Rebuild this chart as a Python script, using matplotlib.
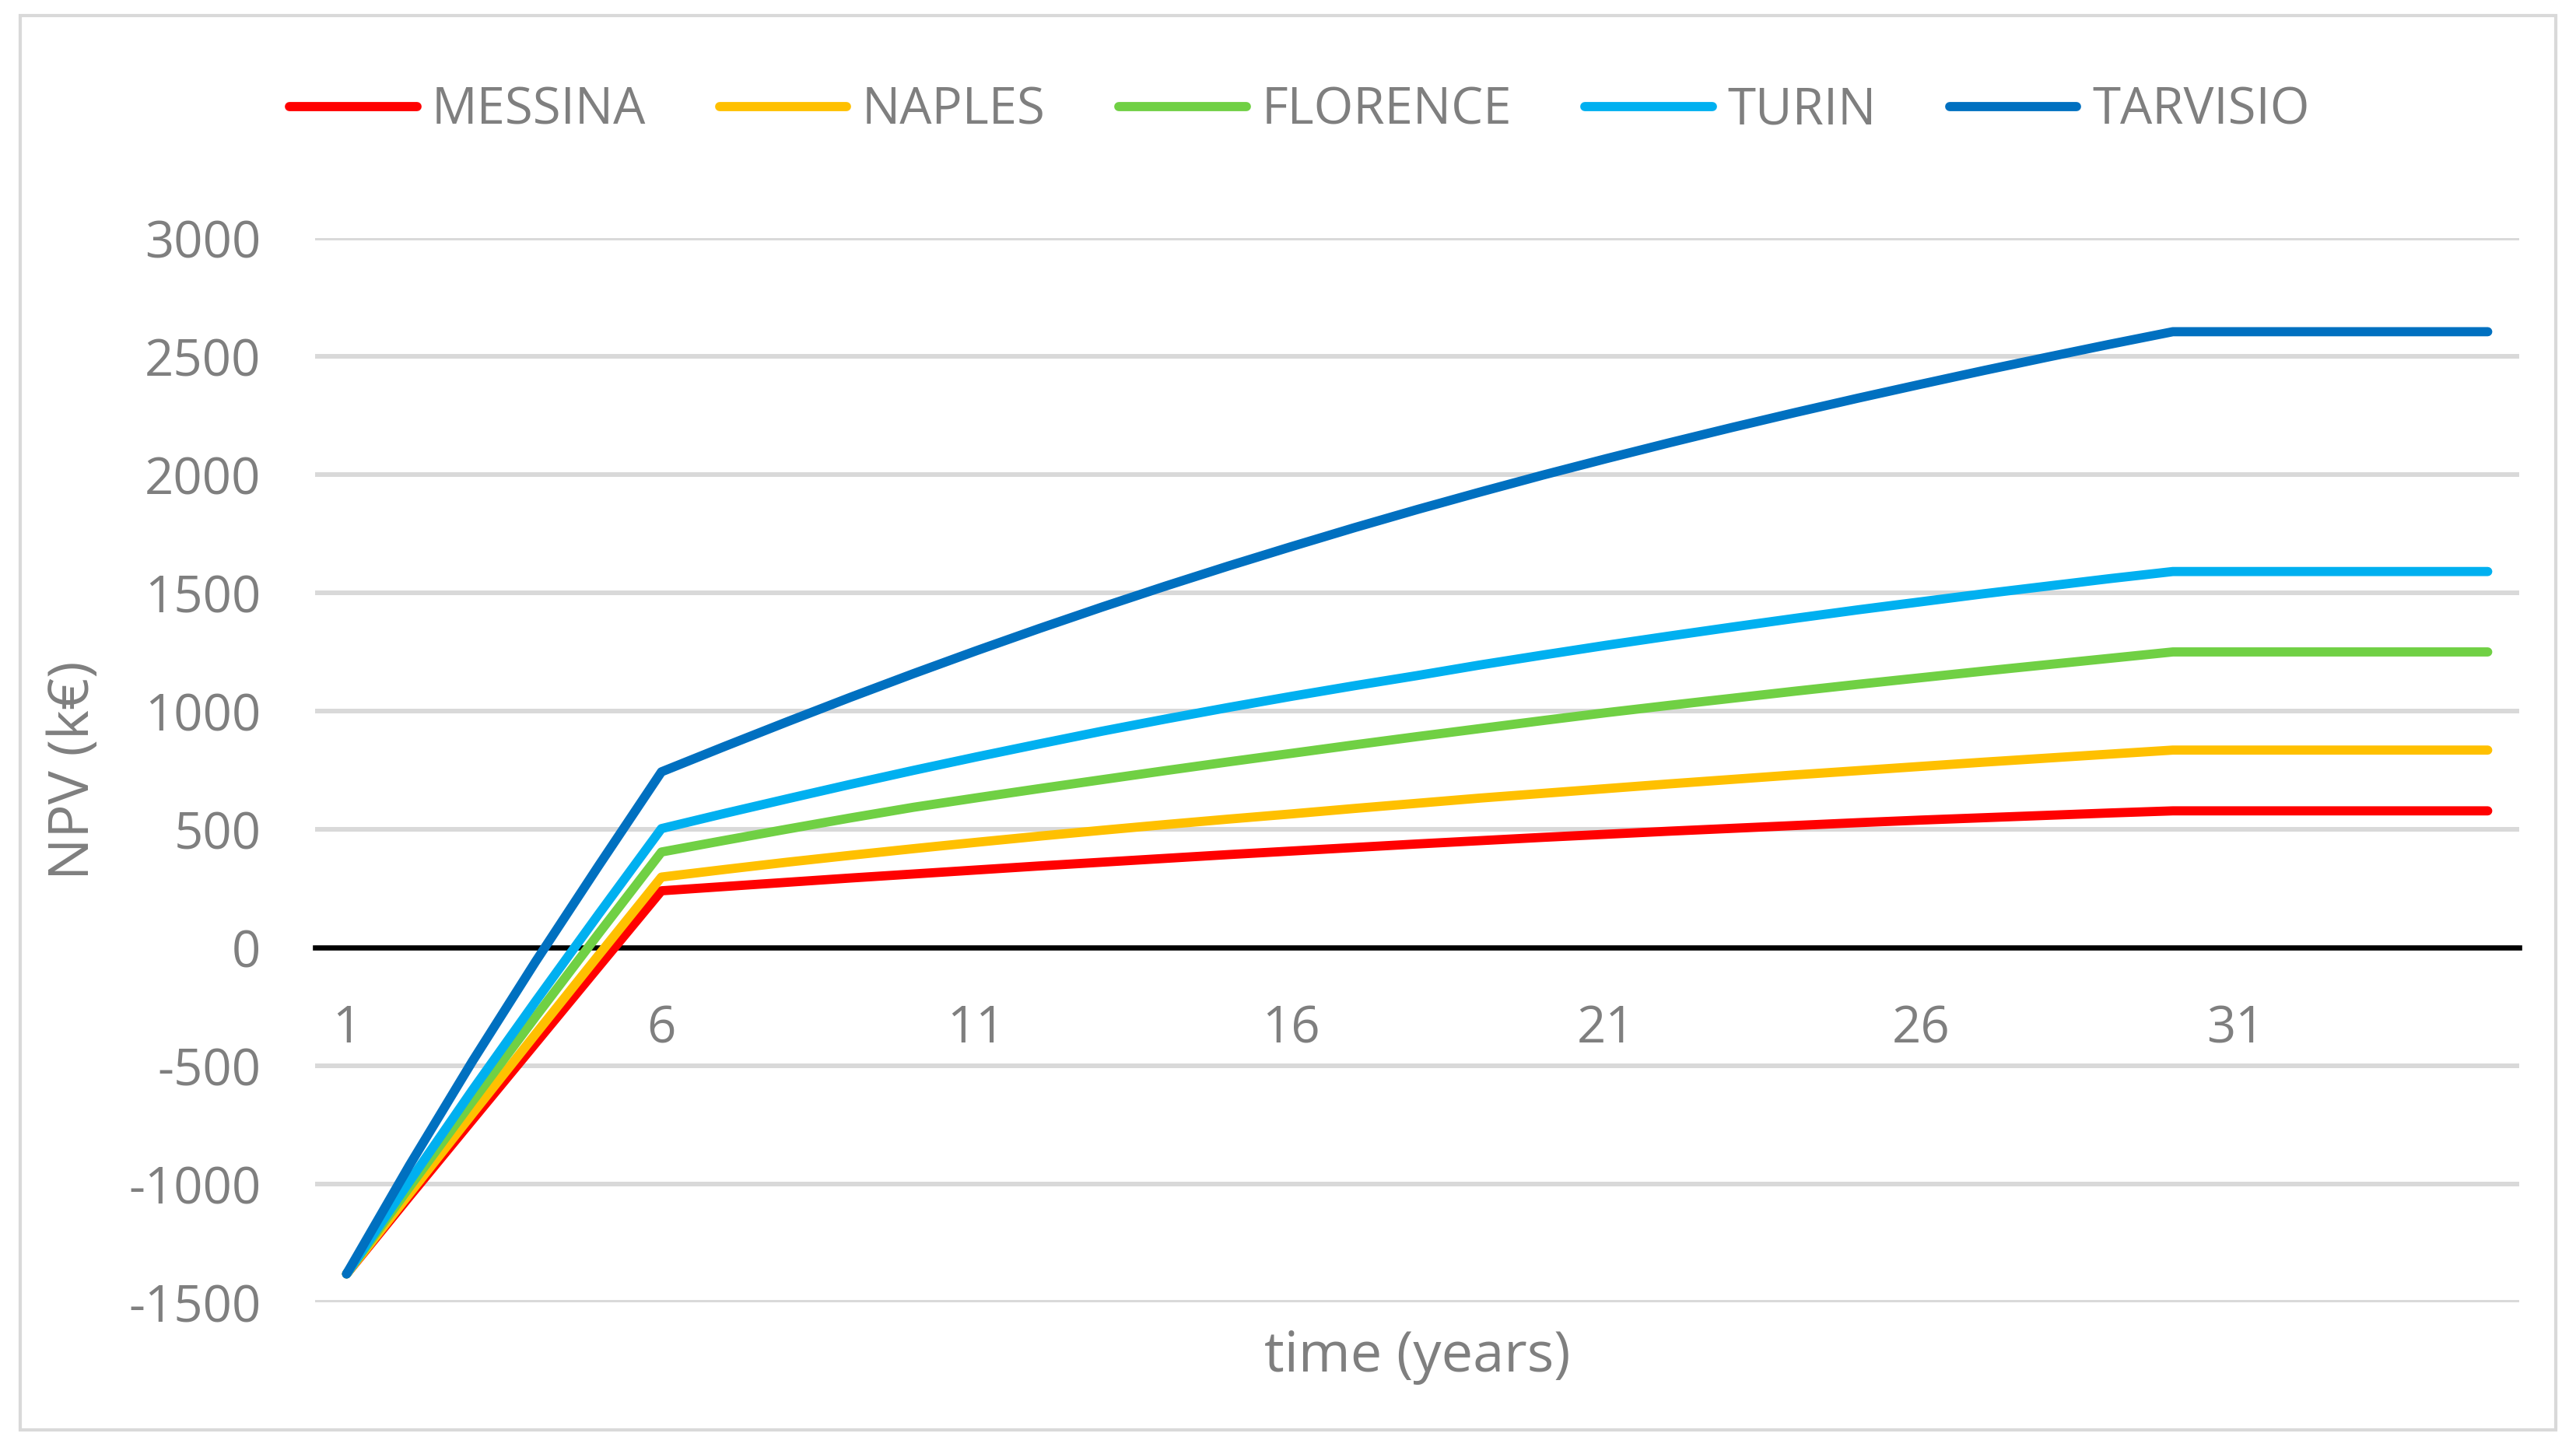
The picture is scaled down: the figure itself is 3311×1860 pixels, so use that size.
import matplotlib
matplotlib.use("Agg")
import matplotlib.pyplot as plt
from matplotlib.patches import Rectangle

plt.rcParams['font.family'] = ['Open Sans', 'DejaVu Sans']

years = list(range(1, 36))
messina = [-1380, -1052, -728, -405, -82, 240, 258, 276, 294, 311, 328, 345, 361, 377, 393,
           408, 423, 438, 452, 466, 479, 492, 504, 516, 528, 539, 549, 559, 569, 578,
           578, 578, 578, 578, 578]
naples = [-1380, -1040, -702, -366, -33, 298, 330, 361, 390, 418, 445, 471, 496, 520, 543,
          565, 588, 610, 632, 652, 672, 692, 711, 730, 748, 766, 784, 801, 818, 835,
          835, 835, 835, 835, 835]
florence = [-1380, -1012, -650, -293, 58, 404, 453, 501, 548, 593, 633, 672, 710, 748, 785,
            821, 857, 892, 926, 960, 993, 1024, 1054, 1084, 1113, 1141, 1169, 1196, 1223, 1250,
            1250, 1250, 1250, 1250, 1250]
turin = [-1380, -988, -602, -228, 140, 503, 567, 629, 690, 749, 806, 861, 915, 966, 1015,
         1062, 1107, 1150, 1195, 1237, 1278, 1317, 1355, 1392, 1428, 1462, 1496, 1528, 1560, 1590,
         1590, 1590, 1590, 1590, 1590]
tarvisio = [-1380, -920, -480, -60, 345, 743, 850, 955, 1058, 1158, 1255, 1349, 1440, 1528, 1613,
            1695, 1775, 1852, 1926, 1998, 2067, 2134, 2199, 2262, 2323, 2382, 2440, 2496, 2551, 2604,
            2604, 2604, 2604, 2604, 2604]

series_names = ["MESSINA", "NAPLES", "FLORENCE", "TURIN", "TARVISIO"]
series_values = [messina, naples, florence, turin, tarvisio]
series_colors = ["#FF0000", "#FFC000", "#70D044", "#00B0F0", "#0070C0"]

x_ticks = [1, 6, 11, 16, 21, 26, 31]
y_ticks = [-1500, -1000, -500, 0, 500, 1000, 1500, 2000, 2500, 3000]

GRAY = "#7F7F7F"
GRID = "#D9D9D9"

fig = plt.figure(figsize=(33.11, 18.60), dpi=100)
fig.patch.set_facecolor("white")
fig.patches.append(Rectangle((26 / 3311, 1 - 1838 / 1860), (3285 - 26) / 3311, (1838 - 20) / 1860,
                             transform=fig.transFigure, fill=False, edgecolor=GRID, linewidth=3))

ax = fig.add_axes([405 / 3311, 0.1, (3238 - 405) / 3311, (1674 - 306) / 1860])

for name, vals, col in zip(series_names, series_values, series_colors):
    ax.plot(years, vals, color=col, linewidth=8.5, label=name, zorder=3,
            solid_capstyle='round', solid_joinstyle='round')

ax.set_xlim(0.5, 35.5)
ax.set_ylim(-1500, 3000)
ax.set_yticks(y_ticks)
ax.set_yticklabels([str(v) for v in y_ticks])
ax.set_xticks(x_ticks)
ax.set_xticklabels([str(v) for v in x_ticks])

ax.set_axisbelow(True)
ax.yaxis.grid(True, color=GRID, linewidth=4.3)
ax.xaxis.grid(False)

for s in ["top", "right", "left"]:
    ax.spines[s].set_visible(False)
ax.spines["bottom"].set_position(("data", 0))
ax.spines["bottom"].set_color("black")
ax.spines["bottom"].set_linewidth(4.8)
ax.spines["bottom"].set_zorder(2.5)

ax.tick_params(axis="y", length=0, pad=50, labelsize=47, labelcolor=GRAY)
ax.tick_params(axis="x", length=0, pad=52, labelsize=47, labelcolor=GRAY)

ax.set_xlabel("time (years)", fontsize=52, color=GRAY, va="center")
ax.xaxis.set_label_coords(0.5, -0.051)
ax.set_ylabel("NPV (k€)", fontsize=52, color=GRAY, va="center")
ax.yaxis.set_label_coords(-0.1094, 0.5)

leg = fig.legend(loc="center", bbox_to_anchor=(0.5045, 1 - 143 / 1860), ncol=5, frameon=False,
                 fontsize=47, handlelength=2.5, handletextpad=0.3, columnspacing=1.45)
for t in leg.get_texts():
    t.set_color(GRAY)
for h in leg.get_lines():
    h.set_linewidth(8.5)
    h.set_solid_capstyle('round')

fig.savefig("out.png", dpi=100, facecolor="white")
